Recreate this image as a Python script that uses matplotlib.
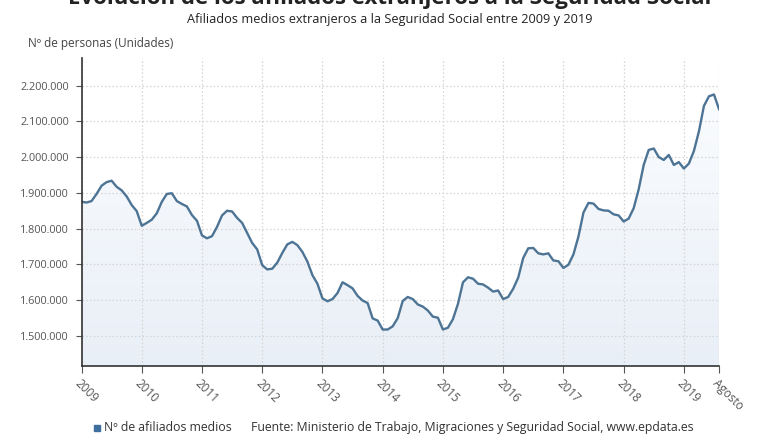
import numpy as np
import matplotlib
matplotlib.use("Agg")
import matplotlib.pyplot as plt
from matplotlib.ticker import FuncFormatter

plt.rcParams["font.family"] = ["Open Sans", "DejaVu Sans"]

# --- datos: afiliados medios extranjeros, enero 2009 - agosto 2019 (miles) ---
v2009 = [1875, 1873, 1877, 1897, 1920, 1930, 1934, 1917, 1907, 1890, 1866, 1849]
v2010 = [1808, 1816, 1825, 1843, 1875, 1897, 1899, 1877, 1869, 1862, 1838, 1822]
v2011 = [1781, 1773, 1779, 1805, 1837, 1850, 1848, 1830, 1816, 1788, 1760, 1742]
v2012 = [1698, 1686, 1688, 1705, 1732, 1756, 1763, 1754, 1735, 1708, 1670, 1646]
v2013 = [1605, 1597, 1603, 1620, 1650, 1642, 1633, 1612, 1599, 1592, 1549, 1543]
v2014 = [1518, 1518, 1527, 1550, 1598, 1609, 1603, 1588, 1582, 1571, 1554, 1551]
v2015 = [1518, 1523, 1547, 1590, 1650, 1664, 1660, 1646, 1644, 1635, 1624, 1627]
v2016 = [1603, 1609, 1632, 1663, 1718, 1745, 1746, 1731, 1728, 1731, 1711, 1709]
v2017 = [1690, 1699, 1728, 1778, 1845, 1872, 1870, 1855, 1851, 1850, 1840, 1837]
v2018 = [1820, 1828, 1857, 1910, 1978, 2020, 2024, 2000, 1992, 2006, 1978, 1986]
v2019 = [1968, 1982, 2017, 2072, 2143, 2170, 2175, 2134]

afiliados = np.array(v2009 + v2010 + v2011 + v2012 + v2013 + v2014 + v2015
                     + v2016 + v2017 + v2018 + v2019) * 1000
meses = np.arange(len(afiliados))

tick_labels = ["2009", "2010", "2011", "2012", "2013", "2014", "2015",
               "2016", "2017", "2018", "2019", "Agosto"]
tick_pos = [12 * k for k in range(11)] + [len(afiliados) - 1]

line_color = "#4d7494"
ymin, ymax = 1416000, 2277000

# --- figura ---
fig = plt.figure(figsize=(7.8, 4.4), dpi=100)
ax = fig.add_axes([81.5 / 780, 1 - 366 / 440, (719 - 81.5) / 780, (366 - 58) / 440])

# relleno con degradado bajo la línea
poly = ax.fill_between(meses, afiliados, ymin, color="none", lw=0)
grad = np.linspace(0, 1, 256).reshape(-1, 1)
cmap = matplotlib.colors.LinearSegmentedColormap.from_list("g", ["#e9eff7", "#fafcfe"])
im = ax.imshow(grad, cmap=cmap, aspect="auto", origin="lower",
               extent=[meses[0], meses[-1], ymin, afiliados.max()], zorder=1)
im.set_clip_path(poly.get_paths()[0], transform=ax.transData)

ax.plot(meses, afiliados, color=line_color, lw=1.7, zorder=3)

ax.set_xlim(meses[0], meses[-1])
ax.set_ylim(ymin, ymax)

ax.set_yticks(np.arange(1500000, 2200001, 100000))
ax.yaxis.set_major_formatter(FuncFormatter(lambda v, p: f"{int(v):,}".replace(",", ".")))
ax.set_xticks(tick_pos)
ax.set_xticklabels(tick_labels, rotation=-45, ha="left", va="top",
                   rotation_mode="anchor")

ax.grid(True, color="#d4d4d4", linestyle=(0, (1.2, 1.8)), lw=0.9, zorder=2)
ax.set_axisbelow(False)
for s in ["top", "right"]:
    ax.spines[s].set_visible(False)
for s in ["left", "bottom"]:
    ax.spines[s].set_color("#333333")
    ax.spines[s].set_linewidth(1.2)
    ax.spines[s].set_zorder(4)

ax.tick_params(axis="y", length=4, width=0.8, color="#555555", labelsize=7.8,
               labelcolor="#555555", pad=5)
ax.tick_params(axis="x", length=5, width=0.8, color="#555555", labelsize=8.5,
               labelcolor="#555555", pad=3)

# --- textos ---
fig.text(0.5, 1 - 4 / 440, "Evolución de los afiliados extranjeros a la Seguridad Social",
         ha="center", va="baseline", fontsize=16, fontweight="bold", color="#222222")
fig.text(0.5, 1 - 20 / 440, "Afiliados medios extranjeros a la Seguridad Social entre 2009 y 2019",
         ha="center", va="center", fontsize=9.2, color="#222222")
fig.text(28 / 780, 1 - 44 / 440, "Nº de personas (Unidades)",
         ha="left", va="center", fontsize=8.5, color="#444444")

# leyenda y fuente
fig.patches.append(matplotlib.patches.Rectangle((94 / 780, 1 - 430.5 / 440), 6 / 780, 6 / 440,
                                                transform=fig.transFigure, color="#3d6e9e"))
fig.text(104 / 780, 1 - 427 / 440, "Nº de afiliados medios",
         ha="left", va="center", fontsize=8.8, color="#333333")
fig.text(251 / 780, 1 - 427 / 440,
         "Fuente: Ministerio de Trabajo, Migraciones y Seguridad Social, www.epdata.es",
         ha="left", va="center", fontsize=8.8, color="#333333")

fig.savefig("out.png", dpi=100, facecolor="white")
plt.close(fig)
